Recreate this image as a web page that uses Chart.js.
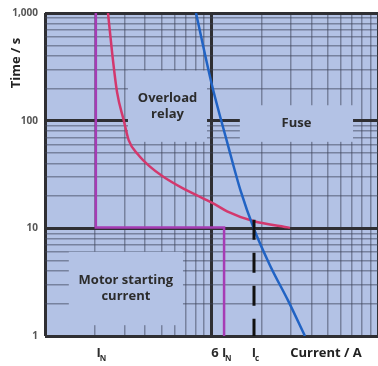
<!DOCTYPE html>
<html>
<head>
<meta charset="utf-8">
<script src="https://cdn.jsdelivr.net/npm/chart.js@4.4.0/dist/chart.umd.min.js"></script>
<style>
  html, body { margin: 0; padding: 0; background: #fff; }
</style>
</head>
<body>
<canvas id="chart" width="378" height="366"></canvas>
<script>
// Tripping characteristics: motor starting current, overload relay, fuse

// grid (log decades)
var xGrid = [1, 2, 3, 4, 5, 6, 7, 8, 9, 10, 20, 30, 40, 50, 60, 70, 80, 90, 100];
var yGrid = [1, 2, 3, 4, 5, 6, 7, 8, 9, 10, 20, 30, 40, 50, 60, 70, 80, 90,
             100, 200, 300, 400, 500, 600, 700, 800, 900, 1000];
var majorLines = [1, 10, 100, 1000];

var yTickValues = [1, 10, 100, 1000];
var yTickLabels = ['1', '10', '100', '1,000'];

// labels under the x axis: main letter + subscript
var xLabelValues = [2.1, 11.9, 18];
var xLabelPrefix = ['', '6 ', ''];
var xLabelSub = ['N', 'N', 'c'];

// motor starting current
var motorX = [2.02, 2.02, 11.9, 11.9];
var motorY = [1000, 10.2, 10.2, 1];

// overload relay curve
var relayX = [2.39, 2.53, 2.71, 2.97, 3.18, 3.62, 4.27, 5.11, 6.74, 8.89, 10.5, 12.4, 17.8, 29.6];
var relayY = [1000, 428, 183, 101, 66.0, 48.5, 37.4, 30.3, 23.5, 19.0, 16.7, 14.4, 11.7, 10.1];

// fuse curve
var fuseX = [8.07, 10.07, 12.4, 15.0, 18.0, 22.5, 28.8, 36.4];
var fuseY = [1000, 213, 63.6, 22.0, 9.85, 4.50, 2.14, 1];

// breaking current Ic
var icX = [18, 18];
var icY = [12, 1];

// text boxes laid over the grid (x from, x to, y from, y to)
var boxText = [['Overload', 'relay'], ['Fuse'], ['Motor starting', 'current']];
var boxX0 = [3.15, 14.8, 1.39];
var boxX1 = [9.40, 70.8, 6.74];
var boxY0 = [63.6, 63.6, 1.26];
var boxY1 = [292, 139, 6.06];

var BG = '#b3c2e5';
var FONT = '"Open Sans", "DejaVu Sans", sans-serif';

function xy(xs, ys) {
    var out = [];
    for (var i = 0; i < xs.length; i++) out.push({x: xs[i], y: ys[i]});
    return out;
}

function isMajor(v) { return majorLines.indexOf(v) >= 0; }

var bgPlugin = {
    id: 'bg',
    beforeDraw: function(chart) {
        var a = chart.chartArea, c = chart.ctx;
        c.save();
        c.fillStyle = BG;
        c.fillRect(a.left, a.top, a.right - a.left, a.bottom - a.top);
        c.restore();
    }
};

var boxPlugin = {
    id: 'boxes',
    beforeDatasetsDraw: function(chart) {
        var c = chart.ctx, xs = chart.scales.x, ys = chart.scales.y;
        c.save();
        for (var i = 0; i < boxText.length; i++) {
            var l = xs.getPixelForValue(boxX0[i]), r = xs.getPixelForValue(boxX1[i]);
            var t = ys.getPixelForValue(boxY1[i]), b = ys.getPixelForValue(boxY0[i]);
            c.fillStyle = BG;
            c.fillRect(l, t, r - l, b - t);
            c.fillStyle = '#2c2c2c';
            c.font = 'bold 13px ' + FONT;
            c.textAlign = 'center';
            c.textBaseline = 'middle';
            var lines = boxText[i], lh = 16;
            var cy = (t + b) / 2 - (lines.length - 1) * lh / 2;
            for (var k = 0; k < lines.length; k++) c.fillText(lines[k], (l + r) / 2, cy + k * lh);
        }
        c.restore();
    }
};

var labelPlugin = {
    id: 'labels',
    afterDraw: function(chart) {
        var c = chart.ctx, xs = chart.scales.x, a = chart.chartArea;
        c.save();
        c.fillStyle = '#2c2c2c';
        c.textBaseline = 'alphabetic';
        for (var i = 0; i < xLabelValues.length; i++) {
            var px = xs.getPixelForValue(xLabelValues[i]);
            c.font = 'bold 13px ' + FONT;
            c.textAlign = 'right';
            if (xLabelPrefix[i]) c.fillText(xLabelPrefix[i], px - 2, a.bottom + 21);
            c.textAlign = 'center';
            c.fillText('I', px, a.bottom + 21);
            c.font = 'bold 8px ' + FONT;
            c.textAlign = 'left';
            c.fillText(xLabelSub[i], px + 1, a.bottom + 25);
        }
        // axis titles
        c.font = 'bold 13px ' + FONT;
        c.fillStyle = '#222';
        c.textAlign = 'center';
        c.textBaseline = 'middle';
        c.fillText('Current / A', 326, a.bottom + 17);
        c.translate(16, 63);
        c.rotate(-Math.PI / 2);
        c.fillText('Time / s', 0, 0);
        c.restore();
    }
};

new Chart(document.getElementById('chart'), {
    type: 'line',
    data: {
        datasets: [
            {label: 'Motor starting current', data: xy(motorX, motorY), borderColor: '#a63cb4', borderWidth: 2.5, pointRadius: 0, tension: 0, order: 3},
            {label: 'Overload relay', data: xy(relayX, relayY), borderColor: '#d3386d', borderWidth: 2.5, pointRadius: 0, cubicInterpolationMode: 'monotone', order: 2},
            {label: 'Fuse', data: xy(fuseX, fuseY), borderColor: '#2163c4', borderWidth: 2.5, pointRadius: 0, cubicInterpolationMode: 'monotone', order: 1},
            {label: 'Ic', data: xy(icX, icY), borderColor: '#111', borderWidth: 3, borderDash: [20, 13], pointRadius: 0, order: 0}
        ]
    },
    options: {
        responsive: false,
        animation: false,
        layout: {padding: {top: 10, right: 0, bottom: 30, left: 0}},
        plugins: {legend: {display: false}, tooltip: {enabled: false}},
        scales: {
            x: {
                type: 'logarithmic', min: 1, max: 100,
                afterBuildTicks: function(s) { s.ticks = xGrid.map(function(v) { return {value: v}; }); },
                ticks: {display: false},
                border: {display: false},
                grid: {
                    drawTicks: false,
                    color: function(ctx) { return isMajor(ctx.tick.value) ? '#2f2f33' : 'rgba(60,66,88,0.5)'; },
                    lineWidth: function(ctx) { return isMajor(ctx.tick.value) ? 3 : 1.5; }
                }
            },
            y: {
                type: 'logarithmic', min: 1, max: 1000,
                afterBuildTicks: function(s) { s.ticks = yGrid.map(function(v) { return {value: v}; }); },
                afterFit: function(s) { s.width = 45; },
                ticks: {
                    autoSkip: false,
                    padding: 7,
                    color: '#555',
                    font: {family: FONT, size: 10, weight: 'bold'},
                    callback: function(v) {
                        var i = yTickValues.indexOf(v);
                        return i >= 0 ? yTickLabels[i] : '';
                    }
                },
                border: {display: false},
                grid: {
                    drawTicks: false,
                    color: function(ctx) { return isMajor(ctx.tick.value) ? '#2f2f33' : 'rgba(60,66,88,0.5)'; },
                    lineWidth: function(ctx) { return isMajor(ctx.tick.value) ? 3 : 1.5; }
                }
            }
        }
    },
    plugins: [bgPlugin, boxPlugin, labelPlugin]
});
</script>
</body>
</html>
